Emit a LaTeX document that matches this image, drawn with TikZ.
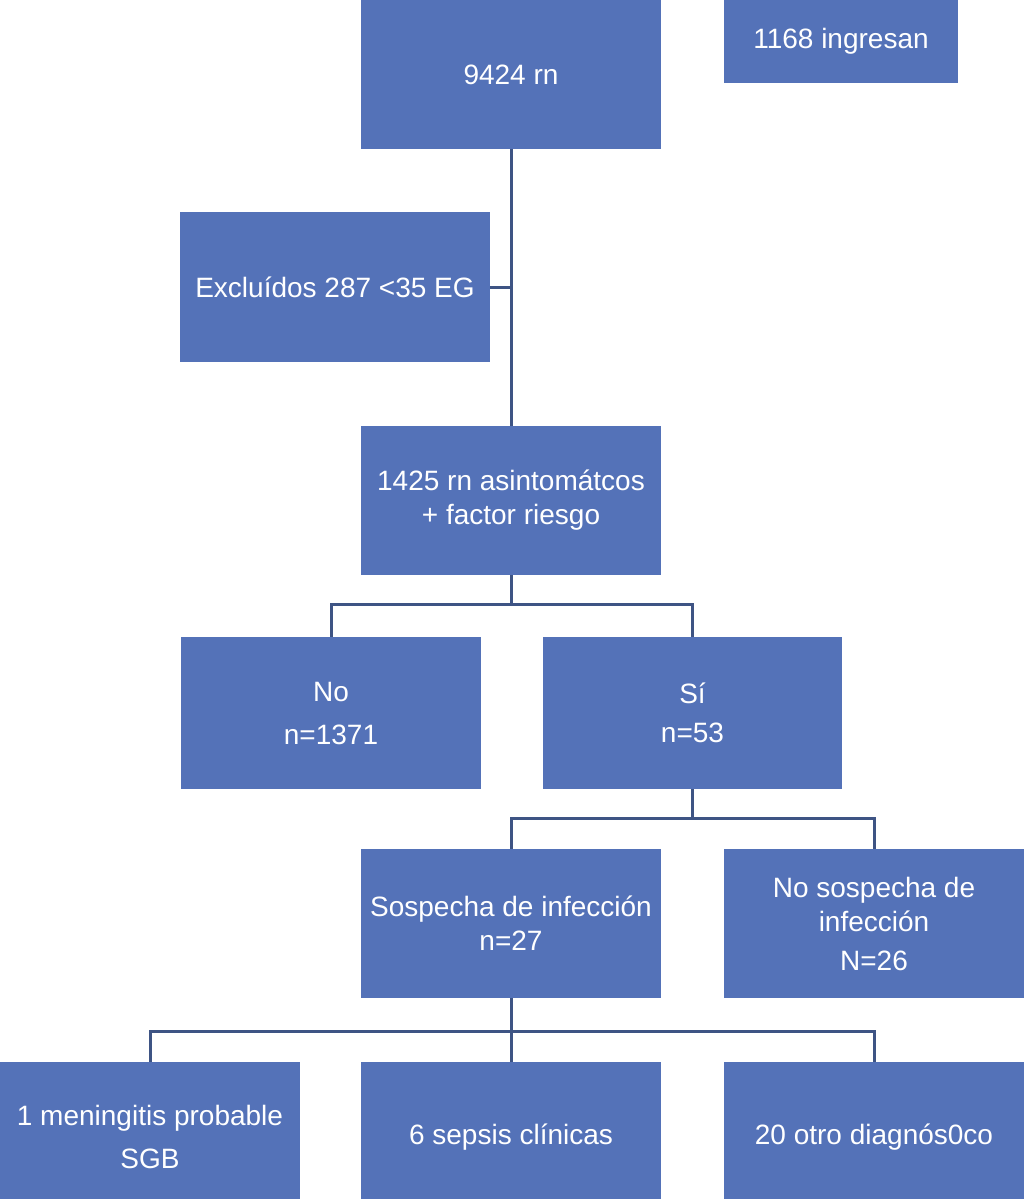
\documentclass[tikz,border=0pt]{standalone}
\usepackage{fontspec}
\setmainfont{Liberation Sans}
\usepackage{xcolor}
\usetikzlibrary{positioning}
\definecolor{azul}{RGB}{84,114,184}
\definecolor{azulosc}{RGB}{62,84,132}

\tikzset{
    caja/.style={fill=azul, text=white, align=center, inner sep=0pt,
        minimum width=300pt, minimum height=150pt,
        font=\fontsize{28}{34}\selectfont},
    linea/.style={draw=azulosc, line width=3pt}
}

\begin{document}
\begin{tikzpicture}[x=1pt, y=-1pt]
    \clip (0, 0) rectangle (1024, 1199);
    \fill[white] (0, 0) rectangle (1024, 1199);
    % cajas
    \node[caja, minimum height=149pt] (rn) at (511, 74.5) {9424 rn};
    \node[caja, minimum width=234pt, minimum height=83pt] (ingresan) at (841, 41.5) {1168 ingresan};
    \node[caja, minimum width=310pt] (excl) at (335, 287) {Excluídos 287 <35 EG};
    \node[caja, minimum height=149pt] (asint) at (511, 500.5) {1425 rn asintomátcos\\+ factor riesgo};
    \node[caja, minimum height=152pt] (no) at (331, 713) {No\\[9pt]n=1371};
    \node[caja, minimum width=299pt, minimum height=152pt] (si) at (692.5, 713) {Sí\\[5pt]n=53};
    \node[caja, minimum height=149pt] (sosp) at (511, 923.5) {Sospecha de infección\\n=27};
    \node[caja, minimum height=149pt] (nosp) at (874, 923.5) {No sospecha de\\infección\\[5pt]N=26};
    \node[caja] (mening) at (150, 1137) {1 meningitis probable\\[9pt]SGB};
    \node[caja] (sepsis) at (511, 1137) {6 sepsis clínicas};
    \node[caja] (otro) at (874, 1137) {20 otro diagnós0co};
    % lineas
    \draw[linea] (rn.south) -- (asint.north);
    \draw[linea] (excl.east) -- (excl.east -| rn.south);
    \draw[linea] (asint.south) -- ++(0, 29) coordinate (b1);
    \draw[linea] (no.north) |- (b1) -| (si.north);
    \draw[linea] (si.south) -- ++(0, 29) coordinate (b2);
    \draw[linea] (sosp.north) |- (b2) -| (nosp.north);
    \draw[linea] (sosp.south) -- ++(0, 33) coordinate (b3);
    \draw[linea] (mening.north) |- (b3) -| (otro.north);
    \draw[linea] (b3) -- (sepsis.north);
\end{tikzpicture}
\end{document}
